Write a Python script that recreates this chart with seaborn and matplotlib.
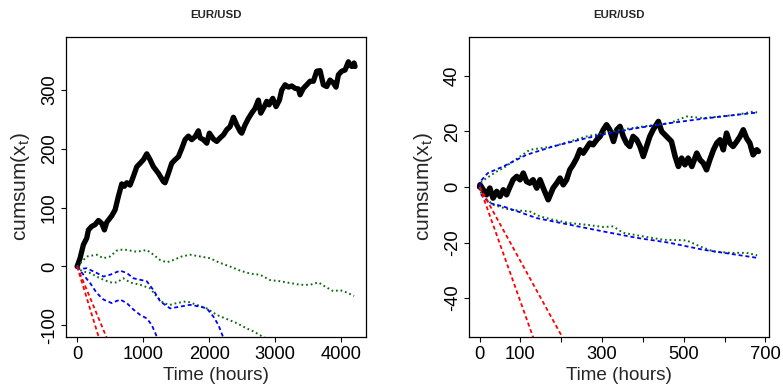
import matplotlib
matplotlib.use("Agg")
import matplotlib.pyplot as plt
import seaborn as sns

# ---------------- long sample: hours 0..4212 ----------------
long_t = [0, 45, 96, 146, 172, 222, 273, 323, 374, 414, 450, 525, 576, 626, 677, 717,
          753, 803, 854, 904, 955, 1005, 1056, 1106, 1157, 1232, 1308, 1333, 1384, 1434,
          1485, 1535, 1586, 1636, 1687, 1737, 1788, 1838, 1864, 1914, 1965, 2005, 2066,
          2116, 2167, 2217, 2268, 2318, 2369, 2419, 2470, 2495, 2545, 2596, 2646, 2697,
          2747, 2783, 2823, 2874, 2909, 2965, 3015, 3066, 3101, 3152, 3202, 3253, 3303,
          3354, 3379, 3429, 3480, 3530, 3581, 3631, 3682, 3732, 3783, 3833, 3884, 3924,
          3960, 4010, 4061, 4111, 4136, 4162, 4197, 4212]
long_cum = [0, 14, 37, 48, 62, 68, 71, 78, 73, 62, 75, 86, 96, 119, 140, 136, 142, 138,
            153, 169, 175, 181, 191, 181, 169, 158, 144, 142, 158, 175, 181, 186, 200, 215,
            221, 215, 220, 230, 218, 215, 209, 226, 216, 212, 218, 223, 232, 237, 253, 240,
            229, 226, 240, 251, 260, 268, 282, 260, 268, 280, 274, 285, 271, 282, 299, 308,
            304, 306, 302, 301, 291, 302, 308, 314, 314, 331, 332, 308, 305, 316, 311, 304,
            325, 331, 333, 347, 342, 339, 345, 339]

long_gup_t = [0, 71, 146, 298, 399, 500, 601, 702, 803, 904, 1056, 1157, 1258, 1359, 1460,
              1586, 1712, 1864, 2015, 2167, 2318, 2470, 2621, 2773, 2924, 3076, 3227, 3379,
              3530, 3657, 3758, 3884, 3985, 4086, 4197]
long_gup = [0, 8, 17, 20, 14, 17, 27, 29, 27, 25, 28, 20, 11, 7, 11, 17, 20, 17, 14, 6, 0,
            -7, -12, -14, -23, -25, -28, -31, -31, -27, -34, -42, -40, -44, -50]

long_glo_t = [0, 71, 197, 348, 500, 601, 702, 803, 955, 1106, 1207, 1308, 1409, 1510, 1662,
              1813, 1965, 2116, 2268, 2419, 2571, 2672, 2798, 2900]
long_glo = [0, -8, -11, -20, -27, -27, -20, -27, -31, -37, -51, -62, -65, -62, -59, -65,
            -71, -82, -89, -96, -105, -110, -118, -124]

long_bup_t = [0, 45, 146, 298, 399, 500, 652, 753, 854, 1056, 1157, 1258, 1409, 1561, 1712,
              1864, 1965, 2066, 2141, 2207, 2260]
long_bup = [0, -4, -3, -11, -17, -14, -7, -11, -20, -25, -40, -59, -71, -68, -65, -68, -71,
            -85, -99, -118, -135]

long_blo_t = [0, 96, 197, 298, 399, 525, 652, 753, 854, 955, 1056, 1131, 1197, 1240]
long_blo = [0, -14, -28, -45, -56, -62, -56, -62, -73, -82, -88, -99, -116, -130]

long_r1_t = [0, 400]
long_r1 = [0, -146]
long_r2_t = [0, 520]
long_r2 = [0, -140]

# ---------------- short sample: hours 0..683 ----------------
short_t = [0, 1, 9, 17, 25, 33, 42, 50, 58, 66, 74, 82, 91, 99, 107, 115, 123, 131, 140,
           148, 156, 168, 180, 189, 197, 205, 213, 221, 229, 238, 246, 254, 262, 270, 278,
           287, 295, 303, 311, 319, 328, 336, 344, 352, 360, 368, 376, 385, 393, 401, 409,
           417, 425, 438, 446, 458, 470, 479, 487, 495, 503, 511, 520, 532, 540, 548, 556,
           564, 573, 581, 589, 597, 605, 613, 621, 630, 638, 646, 654, 662, 670, 679, 683]
short_cum = [0, 0.8, -1, -2.8, -0.4, -4, -1.6, -3.4, -1, -2.8, 0, 2.6, 3.8, 2.6, 5, 2, 1.4,
             2.6, -0.4, 2.6, -0.4, -4.6, -0.4, 1.4, 3.2, 0.8, 2.6, 6.2, 8, 10.4, 13.4, 12.2,
             14, 15.8, 15.2, 17, 18.2, 20.6, 22.4, 20.6, 16.4, 20.6, 21.8, 18.2, 15.8, 14.6,
             18.2, 17, 14.6, 11, 14.6, 18.2, 20.6, 23.6, 20, 18.2, 16.4, 11, 7.4, 10.4, 8,
             10.4, 7.4, 12.2, 9.8, 8.6, 6.2, 9.8, 13.4, 15.8, 17, 13.4, 19.4, 15.8, 14.6,
             16.4, 18.2, 20.6, 17.6, 15.8, 11.6, 13.4, 12.8]

short_bup_t = [0, 5, 20, 58, 115, 180, 262, 319, 385, 466, 548, 630, 680]
short_bup = [0, 2.5, 5, 7.4, 11.6, 14.6, 17.6, 19.4, 21.2, 23, 24.6, 26, 26.8]
short_blo_t = [0, 5, 25, 58, 140, 221, 303, 385, 466, 548, 630, 680]
short_blo = [0, -3, -5.8, -7, -11.2, -13.6, -16, -18.3, -20.1, -22.6, -24.4, -25.5]

short_gup_t = [0, 5, 42, 58, 123, 180, 221, 262, 303, 344, 401, 466, 507, 548, 589, 630,
               671, 680]
short_gup = [0, 2, 5.6, 6.8, 13.4, 14.6, 16.4, 18.2, 19.4, 20.6, 21.8, 23, 25.4, 24.8,
             25.4, 26, 27.2, 26.8]
short_glo_t = [0, 5, 33, 74, 123, 148, 180, 221, 262, 303, 327, 352, 401, 450, 507, 540,
               573, 613, 654, 680]
short_glo = [0, -3, -6.4, -8.2, -8.8, -10.6, -11.8, -13, -13.6, -14.4, -14.2, -16.5, -17.8,
             -19, -19.2, -21.4, -23.2, -23.7, -23.7, -24.6]

short_r1_t = [0, 160]
short_r1 = [0, -66]
short_r2_t = [0, 240]
short_r2 = [0, -64]

TITLE = "EUR/USD"
XLABEL = "Time (hours)"
YLABEL = r"cumsum($\mathregular{x_t}$)"

sns.set_theme(style="ticks")
plt.rcParams["font.family"] = ["Liberation Sans", "DejaVu Sans"]
plt.rcParams["axes.unicode_minus"] = False
plt.rcParams["mathtext.fontset"] = "custom"
plt.rcParams["mathtext.rm"] = "Liberation Sans"

W, H = 783, 386
fig = plt.figure(figsize=(W / 100, H / 100), dpi=100)
ax_long = fig.add_axes([66 / W, 49 / H, 300 / W, 300 / H])
ax_short = fig.add_axes([469 / W, 49 / H, 300 / W, 300 / H])

GREEN = "#0b6b0b"
BLUE = "#0000ff"
RED = "#ff0000"
DOT = (0, (0.9, 1.5))
DASH = (0, (2.2, 1.6))


def draw(ax, t, y, color, lw, ls="-"):
    sns.lineplot(x=t, y=y, ax=ax, color=color, linewidth=lw, linestyle=ls,
                 estimator=None, sort=False, legend=False)


# left panel
draw(ax_long, long_t, long_cum, "black", 3.8)
draw(ax_long, long_gup_t, long_gup, GREEN, 1.4, DOT)
draw(ax_long, long_glo_t, long_glo, GREEN, 1.4, DOT)
draw(ax_long, long_bup_t, long_bup, BLUE, 1.3, DASH)
draw(ax_long, long_blo_t, long_blo, BLUE, 1.3, DASH)
draw(ax_long, long_r1_t, long_r1, RED, 1.3, DASH)
draw(ax_long, long_r2_t, long_r2, RED, 1.3, DASH)

# right panel
draw(ax_short, short_t, short_cum, "black", 4.0)
draw(ax_short, short_gup_t, short_gup, GREEN, 1.4, DOT)
draw(ax_short, short_glo_t, short_glo, GREEN, 1.4, DOT)
draw(ax_short, short_bup_t, short_bup, BLUE, 1.3, DASH)
draw(ax_short, short_blo_t, short_blo, BLUE, 1.3, DASH)
draw(ax_short, short_r1_t, short_r1, RED, 1.3, DASH)
draw(ax_short, short_r2_t, short_r2, RED, 1.3, DASH)

ax_long.set_xlim(-168, 4378)
ax_long.set_ylim(-119.5, 389)
ax_long.set_xticks([0, 1000, 2000, 3000, 4000])
ax_long.set_yticks([-100, 0, 100, 200, 300])

ax_short.set_xlim(-26, 709)
ax_short.set_ylim(-54, 54)
ax_short.set_xticks(range(0, 701, 100))
ax_short.set_xticklabels(["0", "100", "", "300", "", "500", "", "700"])
ax_short.set_yticks([-40, -20, 0, 20, 40])

for ax in (ax_long, ax_short):
    for sp in ax.spines.values():
        sp.set_visible(True)
        sp.set_color("black")
        sp.set_linewidth(0.9)
    ax.tick_params(axis="both", direction="out", length=3.8, width=0.8,
                   colors="black", labelsize=13.2)
    ax.tick_params(axis="x", pad=2.8)
    ax.tick_params(axis="y", pad=2.0)
    for lab in ax.get_yticklabels():
        lab.set_rotation(90)
        lab.set_va("center")
    ax.set_xlabel(XLABEL, fontsize=13.6, labelpad=3.0)
    ax.set_ylabel(YLABEL, fontsize=15, va="center")
    ax.yaxis.set_label_coords(-0.152, 0.5)
    ax.set_title(TITLE, fontsize=8.2, fontweight="bold", pad=13.5)
    ax.grid(False)

fig.savefig("out.png", dpi=100, facecolor="white")
